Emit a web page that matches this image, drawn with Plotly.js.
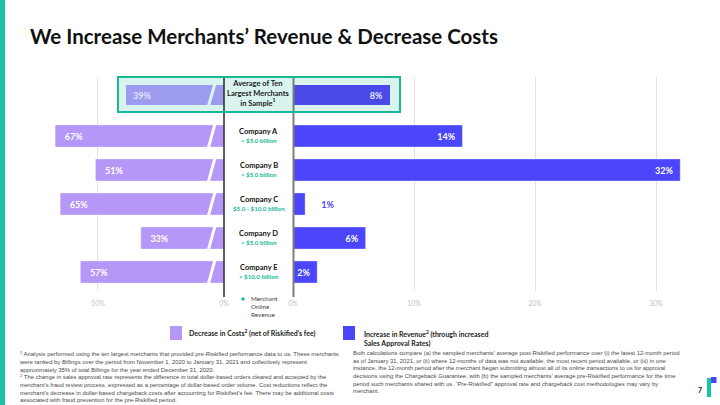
<!DOCTYPE html>
<html>
<head>
<meta charset="utf-8">
<script src="https://cdn.plot.ly/plotly-3.0.1.min.js"></script>
<style>html,body{margin:0;padding:0;background:#fff;}#chart{width:720px;height:405px;}</style>
</head>
<body>
<div id="chart"></div>
<script>
// ---- data ----
const companies = ['Company A', 'Company B', 'Company C', 'Company D', 'Company E'];
const revenueBands = ['< $5.0 billion', '< $5.0 billion', '$5.0 - $10.0 billion', '< $5.0 billion', '> $10.0 billion'];
const costDecrease = [67, 51, 65, 33, 57];
const revenueIncrease = [14, 32, 1, 6, 2];
const avgCategory = ['Average of Ten Largest Merchants in Sample'];
const avgCostDecrease = [39];
const avgRevenueIncrease = [8];
const leftTicks = [0, 50];
const rightTicks = [0, 10, 20, 30];
const legendNames = ['Decrease in Costs<sup>2</sup> (net of Riskified\u2019s fee)', 'Increase in Revenue<sup>2</sup> (through increased<br>Sales Approval Rates)'];

// ---- style ----
const W = 720, H = 405;
const px = x => x / W;
const py = y => 1 - y / H;
const C_COST = '#b597f8', C_REV = '#4b46fb', C_AVG_COST = '#9d9cee', C_AVG_REV = '#4a4ae8';
const TEAL = '#17b897', TEAL_LIGHT = '#d9f4ee';
const FONT = 'Lato';
const NB = '\u00a0';

const pct = v => v + '%';
const barFont = {family: FONT, size: 9, color: '#ffffff', weight: 700};

const traces = [
  {type: 'bar', orientation: 'h', name: 'Decrease in Costs', x: costDecrease, y: companies,
   xaxis: 'x', yaxis: 'y', marker: {color: C_COST, line: {color: 'rgba(255,255,255,0.6)', width: 0.6}}, width: 0.65,
   text: costDecrease.map(v => NB + NB + NB + pct(v)), textposition: 'inside', insidetextanchor: 'end',
   constraintext: 'none', textfont: barFont, hoverinfo: 'x+y', showlegend: false},
  {type: 'bar', orientation: 'h', name: 'Increase in Revenue', x: revenueIncrease, y: companies,
   xaxis: 'x2', yaxis: 'y', marker: {color: C_REV, line: {color: 'rgba(255,255,255,0.6)', width: 0.6}}, width: 0.65,
   text: revenueIncrease.map(v => v < 1.5 ? NB.repeat(6) + pct(v) : pct(v) + NB + NB),
   textposition: revenueIncrease.map(v => v < 1.5 ? 'outside' : 'inside'), insidetextanchor: 'end',
   constraintext: 'none', textfont: barFont,
   outsidetextfont: {family: FONT, size: 9, color: C_REV, weight: 700}, cliponaxis: false,
   hoverinfo: 'x+y', showlegend: false},
  {type: 'bar', orientation: 'h', name: 'Average decrease in costs', x: avgCostDecrease, y: avgCategory,
   xaxis: 'x', yaxis: 'y2', marker: {color: C_AVG_COST}, width: 0.58,
   text: avgCostDecrease.map(v => NB + NB + pct(v)), textposition: 'inside', insidetextanchor: 'end',
   constraintext: 'none', textfont: {family: FONT, size: 9, color: '#e4e4ff', weight: 700}, showlegend: false},
  {type: 'bar', orientation: 'h', name: 'Average increase in revenue', x: avgRevenueIncrease, y: avgCategory,
   xaxis: 'x2', yaxis: 'y2', marker: {color: C_AVG_REV}, width: 0.58,
   text: avgRevenueIncrease.map(v => pct(v) + NB + NB), textposition: 'inside', insidetextanchor: 'end',
   constraintext: 'none', textfont: {family: FONT, size: 9, color: '#e4e4ff', weight: 700}, showlegend: false}
];

const tickFont = {family: FONT, size: 7, color: '#c4c4c4'};
const rowTop = 113, rowBottom = 291, rowCenterA = 136, rowStep = 34;

const layout = {
  width: W, height: H,
  margin: {l: 0, r: 0, t: 0, b: 0},
  paper_bgcolor: '#ffffff', plot_bgcolor: 'rgba(0,0,0,0)',
  showlegend: false,
  bargap: 0,
  title: {text: '<b>We Increase Merchants\u2019 Revenue & Decrease Costs</b>', x: px(30), xanchor: 'left',
          xref: 'paper', yref: 'paper', y: py(37), yanchor: 'middle',
          font: {family: FONT, size: 20.5, color: '#111111'}},
  xaxis: {domain: [px(40), px(224)], range: [73, 0], anchor: 'y', tickvals: leftTicks,
          ticktext: leftTicks.map(pct), tickfont: tickFont, showgrid: true, gridcolor: '#e2e2e2', gridwidth: 1,
          zeroline: false, showline: false, ticks: '', ticklabelstandoff: 7, fixedrange: true},
  xaxis2: {domain: [px(293), px(700)], range: [0, 407 / 12.1], anchor: 'y', tickvals: rightTicks,
          ticktext: rightTicks.map(pct), tickfont: tickFont, showgrid: true, gridcolor: '#e2e2e2', gridwidth: 1,
          zeroline: false, showline: false, ticks: '', ticklabelstandoff: 7, fixedrange: true},
  yaxis: {domain: [py(rowBottom), py(rowTop)], anchor: 'x', type: 'category', categoryarray: companies,
          range: [(rowBottom - rowCenterA) / rowStep, (rowTop - rowCenterA) / rowStep],
          showticklabels: false, showgrid: false, zeroline: false, fixedrange: true},
  yaxis2: {domain: [py(rowTop), py(77)], anchor: 'x', type: 'category', range: [0.5, -0.5],
          showticklabels: false, showgrid: false, zeroline: false, fixedrange: true},
  shapes: [], annotations: []
};

// teal left stripe
layout.shapes.push({type: 'rect', xref: 'paper', yref: 'paper', x0: 0, x1: px(5), y0: 0, y1: 1,
  fillcolor: '#18c4a5', line: {width: 0}, layer: 'above'});
// average row highlight box (fill below, border above)
layout.shapes.push({type: 'rect', xref: 'paper', yref: 'paper', x0: px(118), x1: px(400), y0: py(112), y1: py(77),
  fillcolor: TEAL_LIGHT, line: {width: 0}, layer: 'below'});
// centre panel borders
layout.shapes.push({type: 'line', xref: 'paper', yref: 'paper', x0: px(224), x1: px(224), y0: py(77), y1: py(297),
  line: {color: '#2a2a2a', width: 1.5}, layer: 'above'});
layout.shapes.push({type: 'line', xref: 'paper', yref: 'paper', x0: px(293.5), x1: px(293.5), y0: py(77), y1: py(297),
  line: {color: '#7c7c7c', width: 2}, layer: 'above'});
layout.shapes.push({type: 'rect', xref: 'paper', yref: 'paper', x0: px(118), x1: px(400), y0: py(112), y1: py(77),
  fillcolor: 'rgba(0,0,0,0)', line: {color: TEAL, width: 2}, layer: 'above'});

// axis-break slashes on the cost bars
companies.forEach((c, i) => {
  layout.shapes.push({type: 'line', xref: 'x', yref: 'y', x0: 6.4, x1: 3.4, y0: i + 0.4, y1: i - 0.4,
    line: {color: '#ffffff', width: 3}, layer: 'above'});
});
layout.shapes.push({type: 'line', xref: 'x', yref: 'y2', x0: 6.4, x1: 3.4, y0: 0.36, y1: -0.36,
  line: {color: TEAL_LIGHT, width: 3}, layer: 'above'});

// centre labels
companies.forEach((c, i) => {
  layout.annotations.push({xref: 'paper', yref: 'y', x: px(258.5), y: c, yshift: 5, showarrow: false,
    text: '<b>' + c + '</b>', font: {family: FONT, size: 7.5, color: '#111111'}, xanchor: 'center', yanchor: 'middle'});
  layout.annotations.push({xref: 'paper', yref: 'y', x: px(258.5), y: c, yshift: -4, showarrow: false,
    text: '<b>' + revenueBands[i] + '</b>', font: {family: FONT, size: 6.2, color: TEAL}, xanchor: 'center', yanchor: 'middle'});
});
layout.annotations.push({xref: 'paper', yref: 'paper', x: px(258.5), y: py(94), showarrow: false,
  text: '<b>Average of Ten<br>Largest Merchants<br>in Sample<sup>1</sup></b>',
  font: {family: FONT, size: 7.5, color: '#222222'}, xanchor: 'center', yanchor: 'middle'});

// merchant online revenue key
layout.shapes.push({type: 'circle', xref: 'paper', yref: 'paper', x0: px(241.3), x1: px(244.7), y0: py(300.7), y1: py(297.3),
  fillcolor: TEAL, line: {width: 0}});
layout.annotations.push({xref: 'paper', yref: 'paper', x: px(248.5), y: py(306), showarrow: false,
  text: 'Merchant<br>Online<br>Revenue', align: 'left',
  font: {family: FONT, size: 6.3, color: '#444444'}, xanchor: 'left', yanchor: 'middle'});

// legend (drawn)
layout.shapes.push({type: 'rect', xref: 'paper', yref: 'paper', x0: px(170), x1: px(182), y0: py(340), y1: py(326),
  fillcolor: C_COST, line: {width: 0}});
layout.shapes.push({type: 'rect', xref: 'paper', yref: 'paper', x0: px(343), x1: px(355), y0: py(340), y1: py(326),
  fillcolor: C_REV, line: {width: 0}});
layout.annotations.push({xref: 'paper', yref: 'paper', x: px(187), y: py(333), showarrow: false,
  text: '<b>' + legendNames[0] + '</b>', font: {family: FONT, size: 7, color: '#222222'}, xanchor: 'left', yanchor: 'middle'});
layout.annotations.push({xref: 'paper', yref: 'paper', x: px(362), y: py(338), showarrow: false, align: 'left',
  text: '<b>' + legendNames[1] + '</b>', font: {family: FONT, size: 7, color: '#222222'}, xanchor: 'left', yanchor: 'middle'});

// footnotes
const footLeft = [
  '<sup>1</sup> Analysis performed using the ten largest merchants that provided pre-Riskified performance data to us. These merchants',
  'were ranked by Billings over the period from November 1, 2020 to January 31, 2021 and collectively represent',
  'approximately 35% of total Billings for the year ended December 31, 2020.',
  '<sup>2</sup> The change in sales approval rate represents the difference in total dollar-based orders cleared and accepted by the',
  'merchant\u2019s fraud review process, expressed as a percentage of dollar-based order volume. Cost reductions reflect the',
  'merchant\u2019s decrease in dollar-based chargeback costs after accounting for Riskified\u2019s fee. There may be additional costs',
  'associated with fraud prevention for the pre-Riskified period.'
];
const footRight = [
  'Both calculations compare (a) the sampled merchants\u2019 average post-Riskified performance over (i) the latest 12-month period',
  'as of January 31, 2021, or (ii) where 12-months of data was not available, the most recent period available, or (iii) in one',
  'instance, the 12-month period after the merchant began submitting almost all of its online transactions to us for approval',
  'decisions using the Chargeback Guarantee, with (b) the sampled merchants\u2019 average pre-Riskified performance for the time',
  'period such merchants shared with us. \u201cPre-Riskified\u201d approval rate and chargeback cost methodologies may vary by',
  'merchant.'
];
const footFont = {family: 'Liberation Sans', size: 5.9, color: '#4a4a4a'};
layout.annotations.push({xref: 'paper', yref: 'paper', x: px(17), y: py(347.5), showarrow: false, align: 'left',
  text: footLeft.join('<br>'), font: footFont, xanchor: 'left', yanchor: 'top'});
layout.annotations.push({xref: 'paper', yref: 'paper', x: px(351), y: py(347.5), showarrow: false, align: 'left',
  text: footRight.join('<br>'), font: footFont, xanchor: 'left', yanchor: 'top'});

// page number + logo
layout.annotations.push({xref: 'paper', yref: 'paper', x: px(700), y: py(390), showarrow: false,
  text: '<b>7</b>', font: {family: FONT, size: 7, color: '#222222'}, xanchor: 'center', yanchor: 'middle'});
layout.shapes.push({type: 'rect', xref: 'paper', yref: 'paper', x0: px(707), x1: px(711), y0: py(397), y1: py(378),
  fillcolor: '#18c4a5', line: {width: 0}});
layout.shapes.push({type: 'rect', xref: 'paper', yref: 'paper', x0: px(711), x1: px(716.5), y0: py(383), y1: py(377),
  fillcolor: '#4b46fb', line: {width: 0}});

Plotly.newPlot('chart', traces, layout, {displayModeBar: false, staticPlot: true});
</script>
</body>
</html>
